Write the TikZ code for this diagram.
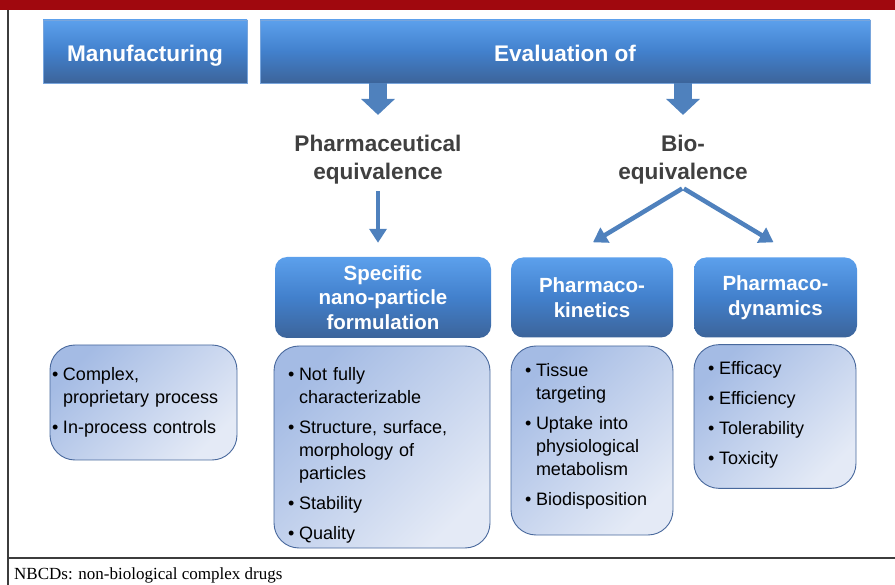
\documentclass[tikz,border=0pt]{standalone}
\usepackage{fontspec}
\setmainfont{Liberation Sans}
\newfontfamily\notefont{Liberation Serif}
\usetikzlibrary{arrows.meta,calc}

\definecolor{barred}{RGB}{160,8,14}
\definecolor{boxtop}{RGB}{92,160,236}
\definecolor{boxmid}{RGB}{66,128,204}
\definecolor{boxbot}{RGB}{60,100,154}
\definecolor{boxedge}{RGB}{120,165,220}
\definecolor{listlight}{RGB}{228,234,246}
\definecolor{listdark}{RGB}{164,187,228}
\definecolor{listedge}{RGB}{72,104,156}
\definecolor{arrowblue}{RGB}{79,129,189}
\definecolor{headgrey}{RGB}{64,64,64}
\definecolor{framegrey}{RGB}{60,60,60}

% bullet line with hanging indent (break lines with \newline)
\newcommand{\bitem}[1]{\par\hangindent=11pt\hangafter=1\noindent\makebox[11pt][l]{\textbullet}#1\par}

\begin{document}
\begin{tikzpicture}[x=1pt,y=-1pt]
\tikzstyle{topbox}=[draw=boxedge,line width=0.8pt,top color=boxtop,bottom color=boxbot,middle color=boxmid,text=white,font=\fontsize{22.6}{27}\selectfont\bfseries,minimum height=63pt,inner sep=0pt,text height=21pt,text depth=0pt];
\tikzstyle{headbox}=[rounded corners=12pt,top color=boxtop,bottom color=boxbot,middle color=boxmid,text=white,font=\fontsize{20.5}{24.5}\selectfont\bfseries,align=center,minimum height=80pt,inner sep=0pt];
\tikzstyle{listbox}=[draw=listedge,line width=0.9pt,rounded corners=25pt,top color=listdark,bottom color=listlight,shading angle=45,font=\fontsize{18}{23}\selectfont,align=left,inner xsep=14pt,inner ysep=0pt,execute at begin node=\setlength{\parskip}{7pt}];
\tikzset{lift/.style={execute at end node={\par\vspace*{#1}}}}
\tikzstyle{plain}=[text=headgrey,font=\fontsize{22.6}{28}\selectfont\bfseries,align=center];
\tikzstyle{blockarrow}=[arrowblue,line width=18pt,-{Triangle[length=16pt,width=33pt]}];
\tikzstyle{thinarrow}=[arrowblue,line width=4.5pt,-{Triangle[length=14pt,width=17pt]}];

\useasboundingbox (0,0) rectangle (895,585);

% frame
\fill[barred] (0,0) rectangle (895,10);
\draw[framegrey,line width=1.2pt] (8,10) -- (8,585);
\draw[framegrey,line width=1.2pt] (8,558) -- (895,558);

% top row
\node[topbox,minimum width=204pt] (manu) at (145,51.5) {Manufacturing};
\node[topbox,minimum width=610pt] (eval) at (565,51.5) {Evaluation of};

\node[plain] (pe) at (378,160) {Pharmaceutical\\equivalence};
\node[plain] (be) at (683,160) {Bio-\\equivalence};

% headings
\node[headbox,minimum width=216pt,minimum height=81pt] (spec) at (383,297.5) {Specific\\nano-particle\\formulation};
\node[headbox,minimum width=162pt] (pk) at (592,297.5) {Pharmaco-\\kinetics};
\node[headbox,minimum width=163pt] (pd) at (775.5,297.5) {Pharmaco-\\dynamics};

% lists
\node[listbox,lift=18pt,inner xsep=2pt,text width=183pt,minimum height=115pt] (manul) at (143.5,402.5) {
	\bitem{Complex,\newline proprietary process}
	\bitem{In-process controls}};
\node[listbox,text width=188pt,minimum height=202pt] (specl) at (382,447) {
	\bitem{Not fully\newline characterizable}
	\bitem{Structure, surface,\newline morphology of\newline particles}
	\bitem{Stability}
	\bitem{Quality}};
\node[listbox,lift=26pt,text width=134pt,minimum height=189pt] (pkl) at (592,440.5) {
	\bitem{Tissue\newline targeting}
	\bitem{Uptake into\newline physiological\newline metabolism}
	\bitem{Biodisposition}};
\node[listbox,lift=20pt,text width=134pt,minimum height=141pt] (pdl) at (775,416.5) {
	\bitem{Efficacy}
	\bitem{Efficiency}
	\bitem{Tolerability}
	\bitem{Toxicity}};

% arrows
\draw[blockarrow,shorten >=17pt] (eval.south -| pe.north) -- (pe.north);
\draw[blockarrow,shorten >=17pt] (eval.south -| be.north) -- (be.north);
\draw[thinarrow,shorten <=3pt,shorten >=14pt] (pe.south) -- (pe.south |- spec.north);
\draw[thinarrow,shorten <=1pt] (be.south) -- ($(pk.north)+(1,-15)$);
\draw[thinarrow,shorten <=1pt] (be.south) -- ($(pd.north)+(-2,-15)$);

\node[anchor=west,font=\notefont\fontsize{17}{20}\selectfont,inner sep=0pt] (note) at (14,575) {NBCDs: non-biological complex drugs};
\end{tikzpicture}
\end{document}
